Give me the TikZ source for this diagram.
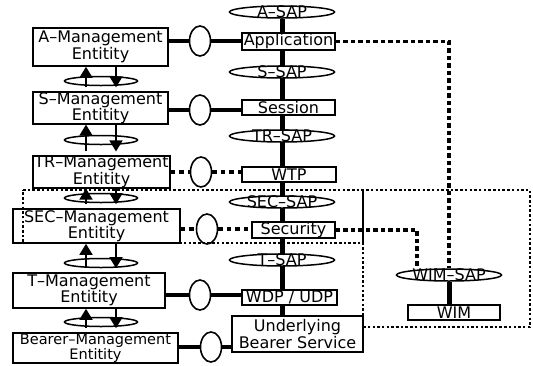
\documentclass[tikz,border=0pt]{standalone}
\usepackage{fontspec}
\setmainfont{DejaVu Sans}
\usetikzlibrary{shapes.geometric,arrows.meta,backgrounds}

\tikzset{
  mgmt/.style={draw, fill=white, line width=1.6pt, align=center, inner sep=0pt,
    font=\fontsize{16}{16.5}\selectfont},
  layerbox/.style={draw, fill=white, line width=1.6pt, align=center, inner sep=0pt,
    font=\fontsize{16}{17}\selectfont},
  sap/.style={ellipse, draw, fill=white, line width=1.5pt, minimum width=105pt,
    minimum height=12pt, inner sep=0pt,
    label={[font=\fontsize{16}{17}\selectfont]center:#1}},
  oval/.style={ellipse, draw, fill=white, line width=1.6pt, minimum width=21pt,
    minimum height=30pt, inner sep=0pt},
  ring/.style={ellipse, draw, line width=1.5pt, minimum width=73pt,
    minimum height=9pt, inner sep=0pt},
  link/.style={line width=4.5pt},
  dlink/.style={line width=4.5pt, dash pattern=on 4.5pt off 4pt},
  wimlink/.style={line width=3.8pt, dash pattern=on 4.5pt off 3pt},
  region/.style={line width=2.4pt, dash pattern=on 2.5pt off 2.2pt},
  tri/.style={line width=1.6pt, -{Triangle[width=13pt,length=11pt]}},
}

\begin{document}
\begin{tikzpicture}[x=1pt, y=-1pt]
  \useasboundingbox (0,0) rectangle (533,365);

  % management entities
  \node[mgmt, minimum width=135pt, minimum height=38pt] (amgmt) at (100.5,47) {A--Management\\Entitity};
  \node[mgmt, minimum width=135pt, minimum height=30pt] (smgmt) at (100.5,108) {S--Management\\Entitity};
  \node[mgmt, minimum width=137pt, minimum height=30pt] (trmgmt) at (101.5,172) {TR--Management\\Entitity};
  \node[mgmt, minimum width=167pt, minimum height=34pt] (secmgmt) at (96.5,226) {SEC--Management\\Entitity};
  \node[mgmt, minimum width=152pt, minimum height=35pt] (tmgmt) at (89,290.5) {T--Management\\Entitity};
  \node[mgmt, minimum width=165pt, minimum height=30pt, font=\fontsize{14.5}{15}\selectfont] (bmgmt) at (95.5,348) {Bearer--Management\\Entitity};

  % protocol stack
  \node[sap=A--SAP] (asap) at (282,12) {};
  \node[layerbox, minimum width=93pt, minimum height=17pt] (app) at (288.5,41.5) {Application};
  \node[sap=S--SAP] (ssap) at (282,72) {};
  \node[layerbox, minimum width=93pt, minimum height=15pt] (sess) at (288.5,107.5) {Session};
  \node[sap=TR--SAP] (trsap) at (282,136) {};
  \node[layerbox, minimum width=94pt, minimum height=15pt] (wtp) at (289,174.5) {WTP};
  \node[sap=SEC--SAP] (secsap) at (282,202) {};
  \node[layerbox, minimum width=83pt, minimum height=14pt] (sec) at (293.5,230) {Security};
  \node[sap=T--SAP] (tsap) at (282,260) {};
  \node[layerbox, minimum width=95pt, minimum height=15pt] (wdp) at (289.5,297.5) {WDP / UDP};
  \node[layerbox, minimum width=131pt, minimum height=36pt] (ubs) at (297.5,334) {Underlying\\Bearer Service};

  % WIM
  \node[sap=WIM--SAP] (wimsap) at (449,275) {};
  \node[layerbox, minimum width=92pt, minimum height=15pt] (wim) at (454,312.5) {WIM};

  % spines behind the boxes
  \begin{scope}[on background layer]
    \draw[line width=5pt] (asap.south) -- (asap.south |- ubs.north);
    \draw[line width=5pt] (wimsap.south) -- (wimsap.south |- wim.north);
  \end{scope}

  % ovals between entity and layer
  \node[oval] (aoval) at (200,41) {};
  \node[oval] (soval) at (200,110) {};
  \node[oval] (troval) at (201,172) {};
  \node[oval] (secoval) at (207,229) {};
  \node[oval] (toval) at (200,295) {};
  \node[oval] (boval) at (211,347) {};

  \foreach \m/\o/\l in {amgmt/aoval/app, smgmt/soval/sess, tmgmt/toval/wdp, bmgmt/boval/ubs}{
    \draw[link] (\o.west -| \m.east) -- (\o.west);
    \draw[link] (\o.east) -- (\o.east -| \l.west);
  }
  \foreach \m/\o/\l in {trmgmt/troval/wtp, secmgmt/secoval/sec}{
    \draw[dlink] (\o.west -| \m.east) -- (\o.west);
    \draw[dlink] (\o.east) -- (\o.east -| \l.west);
  }

  % up/down arrows between entities
  \foreach \hi/\lo/\yy [count=\k] in {amgmt/smgmt/81, smgmt/trmgmt/140, trmgmt/secmgmt/198, secmgmt/tmgmt/263, tmgmt/bmgmt/322}{
    \node[ring] (ring\k) at (101,\yy) {};
    \draw[tri] ([xshift=-15pt,yshift=4pt]ring\k.center |- \lo.north) -- ([xshift=-15pt]ring\k.center |- \hi.south);
    \draw[tri] ([xshift=15pt]ring\k.center |- \hi.south) -- ([xshift=15pt,yshift=4pt]ring\k.center |- \lo.north);
  }

  % links to WIM
  \draw[wimlink] (app.east) -| (wimsap.north);
  \draw[wimlink] (sec.east) -| ([xshift=-32pt]wimsap.north);

  % security region
  \draw[region] (23,190) -- (530,190) -- (530,327) -- (363,327) -- (363,243) -- (23,243) -- cycle;
  \draw[line width=2.5pt] (363,190) -- (363,243);
\end{tikzpicture}
\end{document}
